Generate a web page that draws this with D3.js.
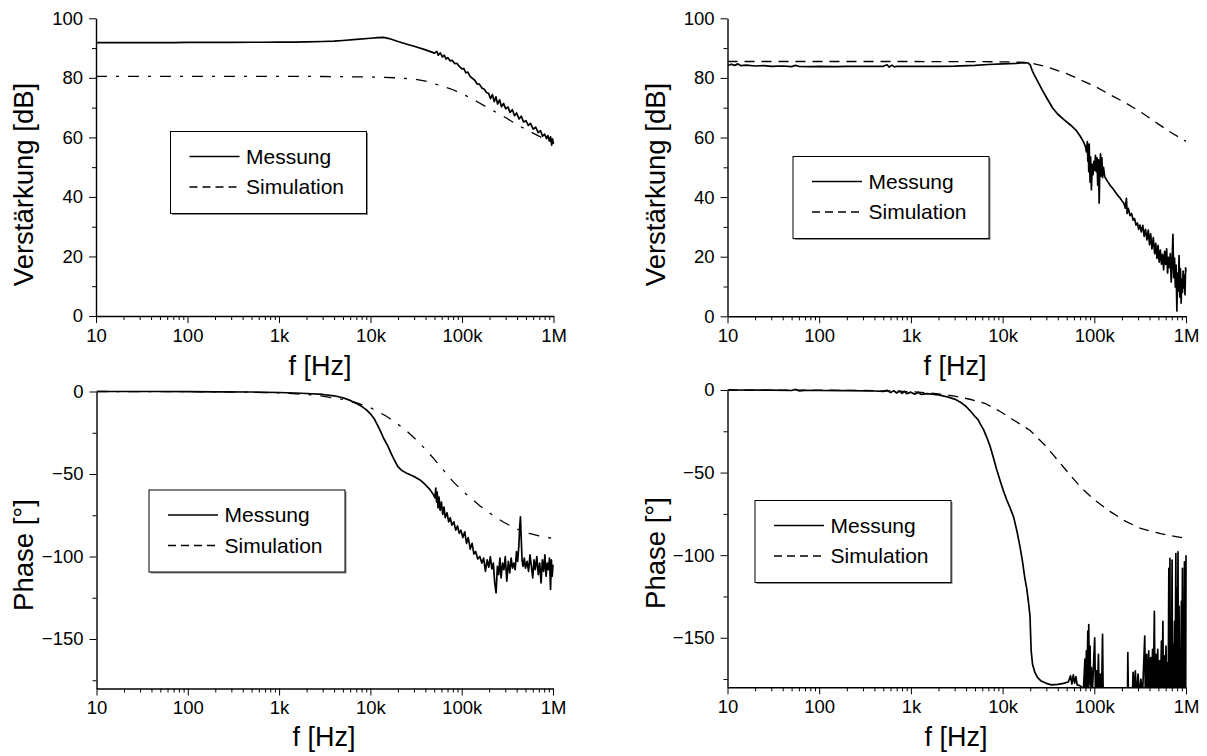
<!DOCTYPE html>
<html>
<head>
<meta charset="utf-8">
<script src="https://cdn.jsdelivr.net/npm/d3@7"></script>
<style>
  body { margin: 0; background: #fff; }
  svg { font-family: Arial, "Liberation Sans", sans-serif; }
</style>
</head>
<body>
<div id="chart"></div>
<script>
// ---- data: [frequency Hz, value] ----
var freqTicks = [10, 100, 1000, 10000, 100000, 1000000];
var freqTickLabels = ["10", "100", "1k", "10k", "100k", "1M"];
var gainTicks = [0, 20, 40, 60, 80, 100];
var phaseTicks = [0, -50, -100, -150];
var seriesNames = ["Messung", "Simulation"];

var gainMessA = [[10,91.8],[15,91.8],[20,91.85],[30,91.8],[50,91.85],[70,91.8],[100,91.9],[150,91.9],[200,91.9],[300,91.9],[500,91.95],[700,91.95],[1000,92.0],[1500,92.0],[2000,92.05],[3000,92.2],[4000,92.35],[5000,92.55],[7000,92.9],[10000,93.3],[12000,93.5],[13900,93.6],[16000,93.2],[20000,92.2],[25000,91.3],[30000,90.6],[40000,89.4],[50000,88.3],[53000,88.9],[55000,87.6],[58000,88.4],[61000,87.0],[64000,87.6],[67000,86.3],[70000,86.8],[74000,85.7],[78000,85.9],[83000,84.8],[88000,84.9],[93000,83.9],[100000,83.0],[105000,83.1],[110000,81.7],[116000,81.9],[122000,80.6],[130000,79.8],[138000,79.2],[146000,78.0],[155000,77.9],[165000,76.6],[175000,76.2],[185000,75.1],[195000,74.8],[205000,73.0],[215000,74.4],[225000,72.0],[235000,73.6],[245000,71.2],[258000,72.6],[270000,70.3],[285000,71.4],[300000,69.6],[318000,70.2],[335000,68.4],[355000,69.3],[375000,67.3],[395000,68.2],[420000,66.2],[445000,67.1],[470000,65.2],[500000,65.6],[530000,64.0],[560000,64.7],[600000,62.8],[640000,63.4],[680000,61.6],[720000,62.3],[760000,60.4],[800000,61.1],[840000,59.6],[870000,60.6],[900000,58.8],[930000,60.2],[955000,57.4],[975000,59.5],[1000000,57.8]];
var gainSimA = [[10,80.5],[100,80.5],[1000,80.5],[3000,80.45],[5000,80.4],[8000,80.3],[12000,80.2],[20000,80.0],[30000,79.6],[40000,78.9],[50000,78.0],[60000,77.3],[80000,76.0],[100000,74.6],[125000,73.2],[150000,71.8],[190000,70.0],[230000,68.6],[280000,67.2],[340000,65.6],[420000,63.9],[520000,62.4],[620000,61.2],[750000,59.9],[870000,59.0],[1000000,58.3]];

var gainMessB = [[10,84.1],[11,84.6],[12,84.2],[13,84.7],[14,84.1],[16,84.3],[20,84.0],[25,84.1],[30,83.9],[40,84.0],[50,83.8],[55,84.2],[60,83.9],[80,83.8],[100,83.9],[150,83.8],[200,83.9],[300,83.9],[400,83.85],[500,83.9],[550,84.4],[580,83.6],[620,84.3],[660,83.7],[700,83.9],[1000,83.9],[1500,83.9],[2000,83.9],[3000,83.95],[5000,84.2],[7000,84.5],[10000,84.7],[14000,84.9],[17000,85.1],[19000,85.0],[20000,84.4],[21000,82.5],[22000,81.2],[24000,79.0],[27000,76.0],[30000,73.5],[35000,70.0],[40000,67.8],[47000,65.9],[55000,64.2],[63000,62.5],[70000,60.5],[76000,58.6],[80000,57.0],[82000,55.2],[84000,58.6],[85000,52.0],[86000,56.5],[87000,48.5],[88000,57.8],[89000,50.2],[90000,45.0],[91000,53.5],[92000,50.0],[93000,42.5],[95000,51.0],[97000,47.5],[99000,52.0],[101000,49.0],[103000,54.0],[105000,48.5],[107000,53.2],[109000,44.0],[111000,52.5],[113000,38.0],[115000,50.5],[117000,54.5],[119000,47.0],[121000,53.2],[123000,46.5],[126000,50.0],[130000,46.8],[135000,46.0],[140000,45.2],[150000,43.8],[160000,42.8],[170000,41.6],[180000,40.6],[190000,39.8],[200000,38.8],[210000,37.9],[218000,36.3],[224000,39.6],[228000,34.5],[235000,36.2],[245000,33.8],[255000,34.5],[265000,32.3],[275000,32.8],[285000,30.6],[295000,31.3],[305000,29.2],[315000,30.6],[325000,28.3],[338000,30.5],[350000,26.8],[362000,29.2],[375000,25.6],[388000,28.9],[400000,24.0],[412000,27.7],[425000,22.6],[440000,26.4],[455000,21.0],[468000,24.5],[482000,19.4],[496000,23.8],[510000,18.2],[525000,22.2],[540000,17.5],[555000,20.8],[570000,15.6],[585000,21.8],[600000,17.4],[615000,22.6],[630000,14.5],[645000,19.8],[660000,16.3],[675000,21.0],[690000,11.5],[705000,18.2],[720000,27.5],[735000,13.0],[750000,19.5],[765000,9.8],[780000,17.2],[795000,1.8],[810000,14.5],[825000,8.5],[840000,20.4],[855000,6.5],[870000,16.0],[885000,4.4],[900000,12.5],[915000,8.0],[930000,15.2],[945000,9.5],[960000,13.8],[975000,7.2],[990000,16.3],[1000000,15.0]];
var gainSimB = [[10,85.5],[100,85.5],[1000,85.5],[5000,85.45],[10000,85.4],[15000,85.3],[20000,85.0],[30000,83.8],[50000,81.4],[70000,79.4],[100000,77.3],[150000,74.3],[220000,71.6],[330000,68.3],[500000,64.5],[700000,61.5],[1000000,58.7]];

var phaseMessA = [[10,0],[50,0],[100,-0.1],[200,-0.2],[500,-0.3],[1000,-0.6],[1500,-0.9],[2000,-1.2],[3000,-1.8],[4000,-2.6],[5000,-3.8],[6000,-5.4],[7000,-7.2],[8000,-9.0],[9000,-11],[10000,-13.5],[11000,-16.5],[12000,-20.5],[13000,-24.5],[14000,-28.5],[15500,-33],[17000,-38],[18500,-42],[20000,-45.5],[22000,-47.8],[25000,-49.5],[30000,-51.5],[35000,-53.6],[40000,-56.5],[45000,-59.5],[49000,-62.5],[51000,-64.5],[52000,-58.5],[53000,-67],[54000,-61],[55000,-70.5],[56500,-64],[58000,-72],[60000,-67],[62000,-74.5],[64000,-70],[66000,-76.5],[69000,-73.5],[72000,-79],[75000,-76.5],[78000,-81],[82000,-79],[86000,-84],[90000,-81.5],[94000,-86],[98000,-84],[103000,-88.5],[108000,-85],[113000,-92],[118000,-88.5],[124000,-95.5],[130000,-92],[136000,-98.5],[142000,-97],[150000,-101.5],[158000,-100],[166000,-104],[174000,-101],[182000,-109],[190000,-102],[198000,-106.5],[206000,-100],[214000,-107.5],[222000,-104],[230000,-116],[238000,-122],[246000,-106],[254000,-111],[262000,-101],[270000,-113],[280000,-104],[290000,-108],[300000,-100],[312000,-115],[324000,-103],[336000,-110],[348000,-101],[360000,-107],[372000,-104],[385000,-108],[398000,-97],[410000,-103],[422000,-94],[432000,-82],[440000,-76],[448000,-88],[458000,-102],[470000,-106],[485000,-101],[500000,-107],[520000,-103],[540000,-109],[560000,-99],[580000,-106],[600000,-113],[620000,-102],[640000,-108],[665000,-100],[690000,-111],[715000,-104],[740000,-116],[765000,-102],[790000,-109],[815000,-99],[840000,-112],[865000,-104],[890000,-108],[915000,-101],[940000,-120],[960000,-102],[980000,-112],[1000000,-105]];
var phaseSimA = [[10,0],[100,-0.1],[500,-0.4],[1000,-0.8],[2000,-1.8],[3000,-2.8],[5000,-4.8],[7000,-6.8],[10000,-9.8],[15000,-15],[20000,-19.8],[25000,-24],[35000,-31.5],[50000,-41],[65000,-48.5],[80000,-54.5],[100000,-59.8],[125000,-64.5],[160000,-69.5],[200000,-73.5],[280000,-78.8],[350000,-81.8],[440000,-84.2],[550000,-86],[700000,-87.5],[1000000,-89]];

var phaseMessB = [[10,0],[30,-0.1],[50,-0.3],[55,0.4],[60,-0.5],[70,-0.2],[100,-0.3],[200,-0.4],[400,-0.6],[500,-0.8],[550,-0.2],[600,-1.6],[650,-0.4],[700,-1.8],[750,-0.6],[800,-2.0],[850,-0.9],[900,-2.2],[1000,-1.3],[1100,-2.5],[1200,-1.4],[1300,-2.7],[1500,-2.2],[2000,-3.0],[2500,-4.2],[3000,-5.5],[3500,-7.5],[4000,-10],[4500,-13],[5000,-16],[5400,-18],[5700,-20.5],[6200,-24],[6700,-28.5],[7300,-34],[7900,-40.5],[8600,-48],[9400,-55],[10200,-61],[11100,-66.5],[12000,-71],[13200,-77],[14400,-86],[15500,-95],[16500,-104],[17500,-114],[18300,-120],[19300,-130],[19900,-137],[20200,-148],[20500,-158],[21200,-166],[22500,-171],[24000,-174],[26000,-176],[30000,-177.6],[34000,-178.5],[40000,-178.2],[46000,-177.6],[52000,-176.8],[55000,-173],[57000,-178],[59000,-172.5],[61000,-177.5],[63000,-173.5],[65000,-178.5],[68000,-178.8],[72000,-179.5],[76000,-182],[79000,-163],[80000,-185],[82000,-158],[83000,-183],[85000,-146],[86000,-184],[87000,-142],[88000,-178],[90000,-155],[91000,-184],[93000,-168],[95000,-185],[99000,-161],[101000,-150],[103000,-184],[106000,-170],[108000,-183],[111000,-160],[113000,-185],[117000,-172],[120000,-184],[123000,-148],[125000,-185],[130000,-190],[230000,-190],[232000,-159],[236000,-190],[260000,-186],[265000,-171],[270000,-186],[280000,-170],[290000,-186],[300000,-172],[310000,-186],[322000,-175],[335000,-186],[355000,-149],[360000,-184],[372000,-160],[380000,-184],[392000,-158],[400000,-183],[412000,-162],[420000,-182],[432000,-157],[440000,-183],[452000,-134],[458000,-184],[470000,-160],[480000,-185],[492000,-157],[500000,-182],[515000,-164],[525000,-184],[540000,-152],[548000,-182],[560000,-140],[566000,-184],[580000,-161],[590000,-183],[605000,-155],[615000,-184],[630000,-165],[640000,-183],[650000,-108],[656000,-183],[668000,-102],[674000,-182],[686000,-160],[694000,-184],[705000,-103],[712000,-183],[725000,-154],[735000,-184],[750000,-140],[760000,-183],[775000,-99],[783000,-184],[795000,-120],[805000,-183],[818000,-98],[826000,-183],[840000,-131],[850000,-184],[865000,-162],[875000,-183],[890000,-128],[900000,-184],[915000,-108],[925000,-182],[940000,-150],[950000,-183],[962000,-104],[970000,-182],[982000,-119],[992000,-184],[1000000,-100]];
var phaseSimB = [[10,0],[100,-0.1],[300,-0.3],[600,-0.6],[1000,-1.0],[1500,-1.7],[2000,-2.4],[3000,-3.7],[4400,-5.6],[6500,-8.2],[9400,-13],[13000,-18],[20000,-24.5],[30000,-34.3],[46000,-46.6],[70000,-58.5],[100000,-66.5],[148000,-73.5],[220000,-79.5],[320000,-83.8],[530000,-87],[750000,-88.6],[1000000,-89.8]];

// ---- layout of the four panels ----
var panels = [
  {id: "p1", x: [96, 553.5], y: [316, 18.3], dom: [0, 100], ticks: gainTicks, minor: [10, 30, 50, 70, 90],
   title: "Verst\u00e4rkung [dB]", titleX: 33, titleY: 184.5, xTitleX: 320, xTitleY: 375,
   mess: gainMessA, sim: gainSimA, simDash: "11,9,3,9", legend: [170.5, 131.5]},
  {id: "p2", x: [727.5, 1186], y: [316.3, 18.3], dom: [0, 100], ticks: gainTicks, minor: [10, 30, 50, 70, 90],
   title: "Verst\u00e4rkung [dB]", titleX: 664.5, titleY: 184.5, xTitleX: 955, xTitleY: 375,
   mess: gainMessB, sim: gainSimB, simDash: "10,7", legend: [793, 156.5]},
  {id: "p3", x: [96.5, 553], y: [688.5, 391.5], dom: [-180, 0], ticks: phaseTicks, minor: [-25, -75, -125, -175],
   title: "Phase [\u00b0]", titleX: 33, titleY: 555, xTitleX: 324, xTitleY: 746,
   mess: phaseMessA, sim: phaseSimA, simDash: "11,9,3,9", legend: [149, 490]},
  {id: "p4", x: [727.5, 1186], y: [687.3, 390], dom: [-180, 0], ticks: phaseTicks, minor: [-25, -75, -125, -175],
   title: "Phase [\u00b0]", titleX: 664.5, titleY: 553, xTitleX: 956, xTitleY: 746,
   mess: phaseMessB, sim: phaseSimB, simDash: "10,7", legend: [755, 500.5]}
];

var svg = d3.select("#chart").append("svg")
    .attr("width", 1207)
    .attr("height", 756);

var minorFreq = [];
for (var d = 10; d < 1000000; d *= 10) {
  for (var m = 2; m <= 9; m++) minorFreq.push(d * m);
}

panels.forEach(function(p) {
  var x = d3.scaleLog().domain([10, 1000000]).range(p.x);
  var y = d3.scaleLinear().domain(p.dom).range(p.y);
  var g = svg.append("g").attr("class", p.id);

  g.append("clipPath").attr("id", "clip-" + p.id)
    .append("rect")
    .attr("x", p.x[0]).attr("y", p.y[1] - 2)
    .attr("width", p.x[1] - p.x[0] + 2)
    .attr("height", p.y[0] - p.y[1] + 2);

  // minor ticks
  g.append("g")
    .attr("transform", "translate(0," + p.y[0] + ")")
    .call(d3.axisBottom(x).tickValues(minorFreq).tickSize(4).tickFormat(""))
    .call(function(s) { s.select(".domain").remove(); });
  g.append("g")
    .attr("transform", "translate(" + p.x[0] + ",0)")
    .call(d3.axisLeft(y).tickValues(p.minor).tickSize(4).tickFormat(""))
    .call(function(s) { s.select(".domain").remove(); });

  // major axes
  var xa = g.append("g")
    .attr("transform", "translate(0," + p.y[0] + ")")
    .call(d3.axisBottom(x).tickValues(freqTicks).tickSize(7).tickSizeOuter(0).tickPadding(5.5)
      .tickFormat(function(v, i) { return freqTickLabels[i]; }));
  var ya = g.append("g")
    .attr("transform", "translate(" + p.x[0] + ",0)")
    .call(d3.axisLeft(y).tickValues(p.ticks).tickSize(7).tickSizeOuter(0).tickPadding(6));

  [xa, ya].forEach(function(a) {
    a.selectAll("text").style("font-size", "18.5px").attr("fill", "#000");
    a.select(".domain").attr("stroke", "#000").attr("stroke-width", 1.4);
  });
  g.selectAll(".tick line").attr("stroke", "#000").attr("stroke-width", 1);

  // axis titles
  g.append("text")
    .attr("x", p.xTitleX).attr("y", p.xTitleY)
    .attr("text-anchor", "middle")
    .style("font-size", "27px")
    .text("f [Hz]");
  g.append("text")
    .attr("transform", "translate(" + p.titleX + "," + p.titleY + ") rotate(-90)")
    .attr("text-anchor", "middle")
    .style("font-size", "27.5px")
    .text(p.title);

  // curves
  var line = d3.line()
    .x(function(d) { return x(d[0]); })
    .y(function(d) { return y(d[1]); });

  g.append("path")
    .datum(p.sim)
    .attr("clip-path", "url(#clip-" + p.id + ")")
    .attr("d", line)
    .attr("fill", "none")
    .attr("stroke", "#000")
    .attr("stroke-width", 1.3)
    .attr("stroke-dasharray", p.simDash);

  g.append("path")
    .datum(p.mess)
    .attr("clip-path", "url(#clip-" + p.id + ")")
    .attr("d", line)
    .attr("fill", "none")
    .attr("stroke", "#000")
    .attr("stroke-width", 1.7)
    .attr("stroke-linejoin", "round");

  // legend box
  var lx = p.legend[0], ly = p.legend[1], lw = 196, lh = 82;
  var leg = g.append("g");
  leg.append("rect")
    .attr("x", lx + 1.5).attr("y", ly + 1.5)
    .attr("width", lw).attr("height", lh)
    .attr("fill", "#8a8a8a");
  leg.append("rect")
    .attr("x", lx).attr("y", ly)
    .attr("width", lw).attr("height", lh)
    .attr("fill", "#fff")
    .attr("stroke", "#000")
    .attr("stroke-width", 1);

  seriesNames.forEach(function(name, i) {
    var ry = ly + 25 + i * 30.5;
    leg.append("line")
      .attr("x1", lx + 19).attr("x2", lx + 69)
      .attr("y1", ry).attr("y2", ry)
      .attr("stroke", "#000")
      .attr("stroke-width", i == 0 ? 1.7 : 1.3)
      .attr("stroke-dasharray", i == 0 ? null : "8,5");
    leg.append("text")
      .attr("x", lx + 75.5).attr("y", ry + 7)
      .style("font-size", "21px")
      .text(name);
  });
});
</script>
</body>
</html>
